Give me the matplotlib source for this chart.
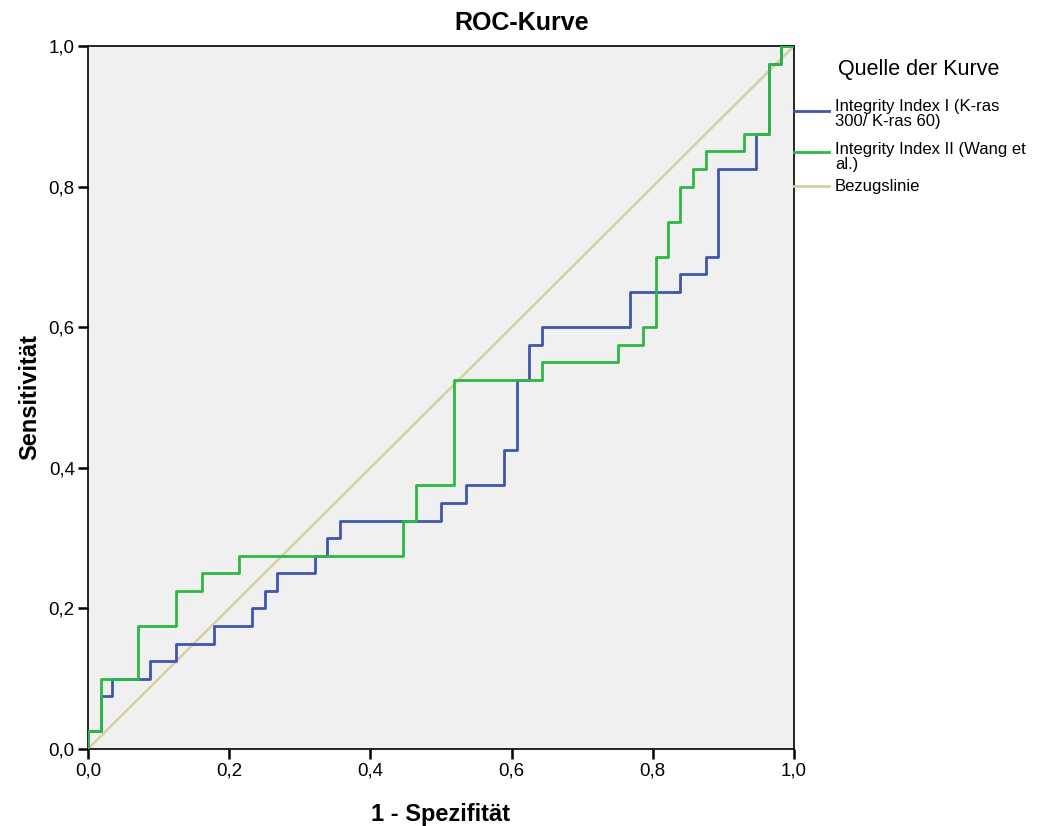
import matplotlib
matplotlib.use("Agg")
import matplotlib.pyplot as plt
from matplotlib.lines import Line2D

plt.rcParams['font.family'] = ['Liberation Sans', 'DejaVu Sans']

# ROC corner points (1 - specificity, sensitivity)
fpr_index1 = [0.0, 0.0, 0.018, 0.034, 0.088, 0.125, 0.178, 0.232, 0.25, 0.268, 0.321, 0.339,
              0.357, 0.5, 0.536, 0.589, 0.607, 0.625, 0.643, 0.768, 0.839, 0.875, 0.893,
              0.946, 0.964, 0.982, 1.0]
tpr_index1 = [0.0, 0.025, 0.075, 0.1, 0.125, 0.15, 0.175, 0.2, 0.225, 0.25, 0.275, 0.3,
              0.325, 0.35, 0.375, 0.425, 0.525, 0.575, 0.6, 0.65, 0.675, 0.7, 0.825,
              0.875, 0.975, 1.0, 1.0]

fpr_index2 = [0.0, 0.0, 0.018, 0.071, 0.125, 0.161, 0.214, 0.446, 0.464, 0.518, 0.643, 0.75,
              0.786, 0.804, 0.821, 0.839, 0.857, 0.875, 0.929, 0.964, 0.982, 1.0]
tpr_index2 = [0.0, 0.025, 0.1, 0.175, 0.225, 0.25, 0.275, 0.325, 0.375, 0.525, 0.55, 0.575,
              0.6, 0.7, 0.75, 0.8, 0.825, 0.85, 0.875, 0.975, 1.0, 1.0]

ref_x = [0.0, 1.0]
ref_y = [0.0, 1.0]

tick_vals = [0.0, 0.2, 0.4, 0.6, 0.8, 1.0]
tick_labels = ["0,0", "0,2", "0,4", "0,6", "0,8", "1,0"]

legend_title = "Quelle der Kurve"
legend_labels = ["Integrity Index I (K-ras\n300/ K-ras 60)",
                 "Integrity Index II (Wang et\nal.)",
                 "Bezugslinie"]

c_blue = "#3E56AE"
c_green = "#2DB843"
c_ref = "#D6CFA2"

W, H = 1051, 826
fig = plt.figure(figsize=(W / 100, H / 100), dpi=100)
ax = fig.add_axes([88 / W, 1 - 749 / H, (794 - 88) / W, (749 - 46) / H])
ax.set_facecolor("#F0F0F0")

ax.plot(ref_x, ref_y, color=c_ref, lw=1.8, zorder=2)
ax.plot(fpr_index1, tpr_index1, color=c_blue, lw=2.0, drawstyle='steps-post', zorder=3)
ax.plot(fpr_index2, tpr_index2, color=c_green, lw=2.0, drawstyle='steps-post', zorder=4)

ax.set_xlim(0, 1)
ax.set_ylim(0, 1)
ax.set_xticks(tick_vals)
ax.set_xticklabels(tick_labels)
ax.set_yticks(tick_vals)
ax.set_yticklabels(tick_labels)
ax.tick_params(direction='out', length=7.5, width=1.8, labelsize=13.5, color='black', pad=2)
for s in ax.spines.values():
    s.set_color('black')
    s.set_linewidth(1.2)

ax.set_xlabel("1 - Spezifität", fontsize=17, fontweight='bold', va='center')
ax.xaxis.set_label_coords(0.5, (749 - 815) / 703)
ax.set_ylabel("Sensitivität", fontsize=17, fontweight='bold', va='center')
ax.yaxis.set_label_coords((30 - 88) / 706, 0.5)

fig.text(522 / W, 1 - 23 / H, "ROC-Kurve", fontsize=18, fontweight='bold',
         ha='center', va='center')

# legend drawn in figure pixel coordinates
def fx(px):
    return px / W

def fy(py):
    return 1 - py / H

fig.text(fx(838), fy(70), legend_title, fontsize=15.5, ha='left', va='center')
entries = [(c_blue, 111, 114), (c_green, 152, 157), (c_ref, 186, 187)]
for (col, ly, ty), lab in zip(entries, legend_labels):
    fig.add_artist(Line2D([fx(794), fx(829)], [fy(ly), fy(ly)], color=col, lw=2.0))
    fig.text(fx(835), fy(ty), lab, fontsize=12, ha='left', va='center', linespacing=1.05)

fig.savefig("out.png", dpi=100)
